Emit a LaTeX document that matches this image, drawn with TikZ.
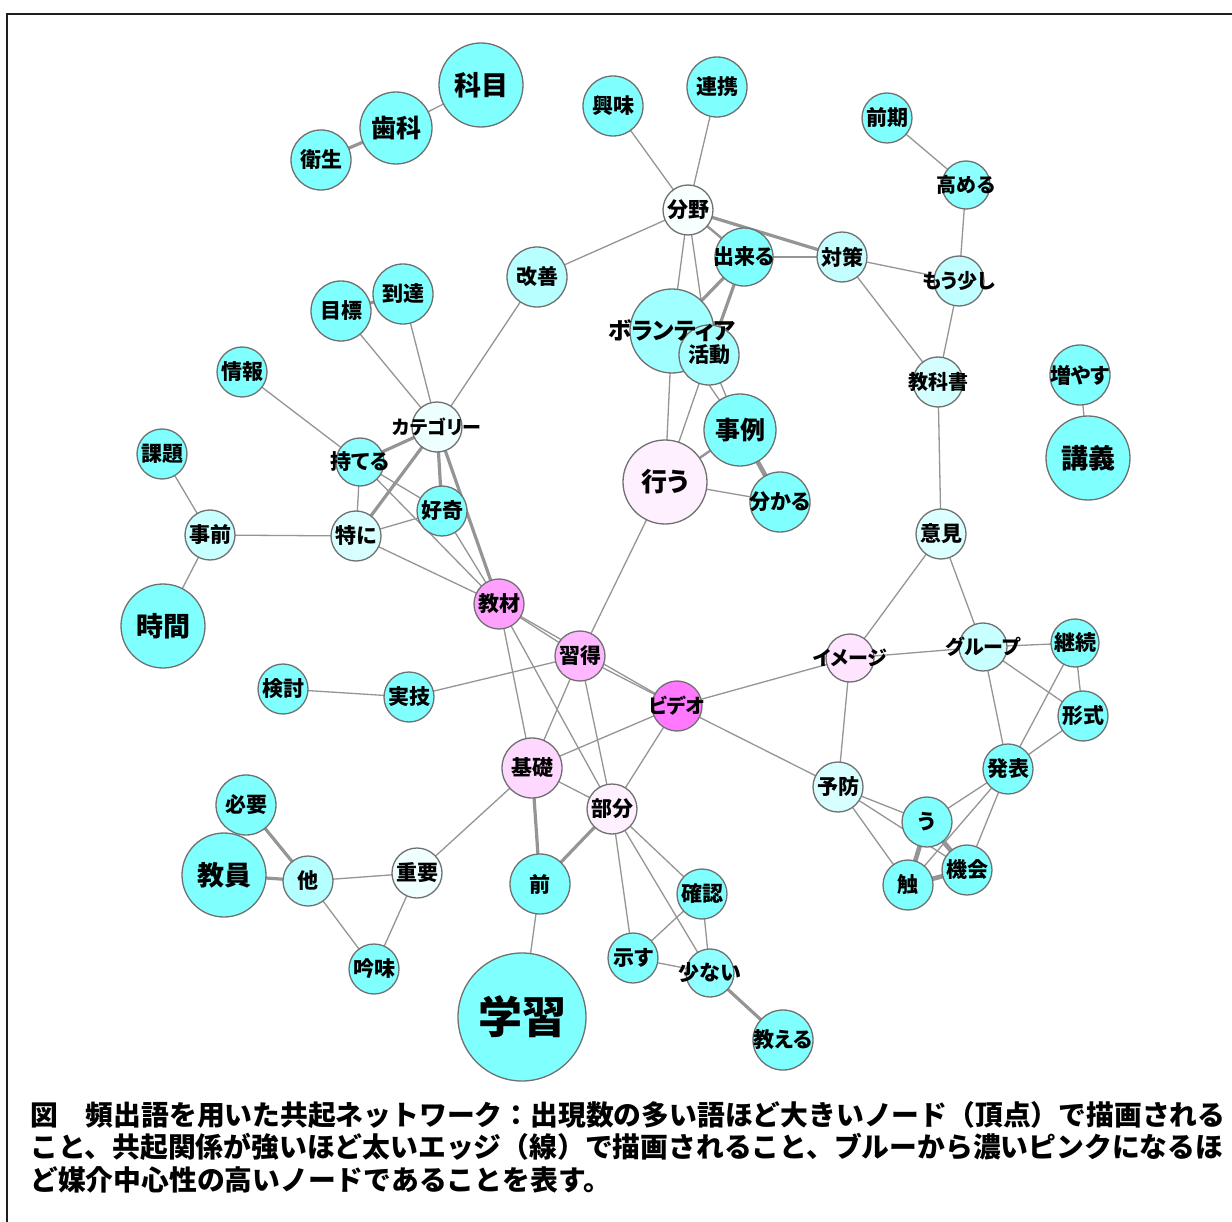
\documentclass[tikz,border=0pt]{standalone}
\usepackage{fontspec}
\newfontfamily\jp{Noto Sans CJK JP}
\newfontfamily\jpp{Noto Sans CJK JP}[RawFeature=+palt]
\pgfdeclarelayer{paper}
\pgfdeclarelayer{background}
\pgfdeclarelayer{foreground}
\pgfsetlayers{paper,background,main,foreground}
\definecolor{ndline}{HTML}{707070}
\definecolor{edcol}{HTML}{959595}
\definecolor{frm}{HTML}{1E1E1E}
\definecolor{cA}{HTML}{80FFFF}
\definecolor{cA2}{HTML}{8CFFFF}
\definecolor{cBunya}{HTML}{F8FFFF}
\definecolor{cKaizen}{HTML}{B8FFFF}
\definecolor{cVol}{HTML}{A0FFFF}
\definecolor{cKat}{HTML}{A6FFFF}
\definecolor{cTai}{HTML}{C4FFFF}
\definecolor{cMou}{HTML}{C0FFFF}
\definecolor{cKyo}{HTML}{D4FFFF}
\definecolor{cIken}{HTML}{DCFFFF}
\definecolor{cGroup}{HTML}{C8FFFF}
\definecolor{cYobo}{HTML}{D8FFFF}
\definecolor{cCat}{HTML}{EEFFFF}
\definecolor{cMot}{HTML}{8CFFFF}
\definecolor{cTok}{HTML}{D8FFFF}
\definecolor{cJizen}{HTML}{C8FFFF}
\definecolor{cHoka}{HTML}{B4FFFF}
\definecolor{cJuyo}{HTML}{F0FFFF}
\definecolor{cSuk}{HTML}{90FFFF}
\definecolor{cOko}{HTML}{FFF0FF}
\definecolor{cBubun}{HTML}{FFF0FF}
\definecolor{cImage}{HTML}{FFE4FF}
\definecolor{cKiso}{HTML}{FFD8FF}
\definecolor{cShu}{HTML}{FFB8FF}
\definecolor{cKyz}{HTML}{FFA0FF}
\definecolor{cVideo}{HTML}{FF78FF}
\tikzset{
  nd/.style={circle, draw=ndline, line width=1.3pt, inner sep=0pt, outer sep=0pt},
  lbl/.style={inner sep=0pt, text=black},
  ed/.style={draw=edcol, line width=1.3pt},
  edm/.style={ed, line width=2.4pt},
  edk/.style={ed, line width=3.2pt},
  edx/.style={ed, line width=4.6pt},
  captext/.style={inner sep=0pt, anchor=west, text=black, font=\jp\bfseries\fontsize{27.8}{27.8}\selectfont}
}
% name, x, y, r, fill, fontsize, text
\newcommand\wn[7]{%
  \node[nd, minimum size={2*#4pt}, fill=#5] (#1) at (#2,#3) {};
  \begin{pgfonlayer}{foreground}
    \node[lbl, font=\jpp\bfseries\fontsize{#6}{#6}\selectfont] at (#1.center) {#7};
  \end{pgfonlayer}}
\begin{document}
\begin{tikzpicture}[x=1pt,y=-1pt]
\useasboundingbox (0,0) rectangle (1232,1222);
\begin{pgfonlayer}{paper}
\fill[white] (0,0) rectangle (1232,1222);
\end{pgfonlayer}
\draw[frm, line width=2pt] (7,1222) -- (7,14) -- (1232,14);

\wn{kamoku}{481}{85}{42}{cA}{27}{科目}
\wn{shika}{396}{128}{36}{cA}{25}{歯科}
\wn{eisei}{321}{160}{30}{cA}{21}{衛生}
\wn{kyomi}{613}{106}{30}{cA}{21}{興味}
\wn{renkei}{717}{87}{30}{cA}{21}{連携}
\wn{bunya}{688}{210}{25}{cBunya}{21}{分野}
\wn{kaizen}{537}{277}{30}{cKaizen}{21}{改善}
\wn{dekiru}{744}{257}{29}{cA}{21}{出来る}
\wn{volun}{672}{331}{42}{cVol}{23.5}{ボランティア}
\wn{katsudo}{709}{355}{30}{cKat}{21}{活動}
\wn{jirei}{740}{430}{36}{cA}{25}{事例}
\wn{okonau}{665}{482}{42}{cOko}{26}{行う}
\wn{wakaru}{780}{502}{30}{cA}{21}{分かる}
\wn{taisaku}{842}{257}{25}{cTai}{21}{対策}
\wn{zenki}{887}{118}{25}{cA}{21}{前期}
\wn{takameru}{966}{185}{24}{cA2}{20}{高める}
\wn{mousukoshi}{959}{281}{25}{cMou}{20}{もう少し}
\wn{kyokasho}{938}{382}{25}{cKyo}{20}{教科書}
\wn{fuyasu}{1080}{375}{30}{cA}{21}{増やす}
\wn{kogi}{1088}{458}{42}{cA}{27}{講義}
\wn{iken}{941}{534}{25}{cIken}{21}{意見}
\wn{group}{983}{647}{24}{cGroup}{20}{グループ}
\wn{keizoku}{1075}{643}{24}{cA}{21}{継続}
\wn{keishiki}{1083}{716}{25}{cA}{21}{形式}
\wn{image}{850}{658}{24}{cImage}{20}{イメージ}
\wn{happyo}{1008}{769}{25}{cA}{21}{発表}
\wn{yobo}{838}{787}{25}{cYobo}{21}{予防}
\wn{u}{927}{822}{25}{cA}{21}{う}
\wn{shoku}{908}{885}{25}{cA}{21}{触}
\wn{kikai}{967}{870}{25}{cA}{21}{機会}
\wn{video}{677}{706}{25}{cVideo}{20}{ビデオ}
\wn{shutoku}{580}{656}{25}{cShu}{21}{習得}
\wn{kyozai}{499}{604}{25}{cKyz}{21}{教材}
\wn{kiso}{532}{768}{30}{cKiso}{21}{基礎}
\wn{bubun}{612}{809}{25}{cBubun}{21}{部分}
\wn{mae}{540}{884}{30}{cA}{21}{前}
\wn{gakushu}{522}{1017}{64}{cA}{44}{学習}
\wn{kakunin}{702}{894}{25}{cA}{21}{確認}
\wn{shimesu}{633}{958}{25}{cA}{21}{示す}
\wn{sukunai}{710}{973}{24}{cSuk}{21}{少ない}
\wn{oshieru}{783}{1040}{30}{cA}{21}{教える}
\wn{category}{437}{427}{25}{cCat}{19}{カテゴリー}
\wn{moteru}{360}{462}{24}{cMot}{21}{持てる}
\wn{koki}{442}{511}{25}{cA}{21}{好奇}
\wn{tokuni}{356}{536}{25}{cTok}{21}{特に}
\wn{mokuhyo}{341}{311}{30}{cA}{21}{目標}
\wn{totatsu}{403}{294}{30}{cA}{21}{到達}
\wn{joho}{242}{372}{25}{cA}{21}{情報}
\wn{kadai}{162}{454}{25}{cA}{21}{課題}
\wn{jizen}{210}{535}{25}{cJizen}{21}{事前}
\wn{jikan}{163}{626}{42}{cA}{27}{時間}
\wn{kento}{283}{689}{25}{cA}{21}{検討}
\wn{jitsugi}{409}{697}{25}{cA}{21}{実技}
\wn{hitsuyo}{246}{805}{30}{cA}{21}{必要}
\wn{kyoin}{224}{875}{42}{cA}{27}{教員}
\wn{hoka}{308}{881}{25}{cHoka}{21}{他}
\wn{juyo}{417}{873}{25}{cJuyo}{21}{重要}
\wn{ginmi}{374}{969}{25}{cA}{21}{吟味}

\begin{pgfonlayer}{background}
\draw[ed] (kamoku) -- (shika);
\draw[edk] (shika) -- (eisei);
\draw[ed] (kyomi) -- (bunya);
\draw[ed] (renkei) -- (bunya);
\draw[ed] (bunya) -- (kaizen);
\draw[edm] (bunya) -- (dekiru);
\draw[edk] (bunya) -- (taisaku);
\draw[ed] (bunya) -- (volun);
\draw[ed] (bunya) -- (katsudo);
\draw[ed] (dekiru) -- (taisaku);
\draw[edk] (dekiru) -- (volun);
\draw[edk] (dekiru) -- (katsudo);
\draw[ed] (taisaku) -- (mousukoshi);
\draw[ed] (taisaku) -- (kyokasho);
\draw[ed] (zenki) -- (takameru);
\draw[ed] (takameru) -- (mousukoshi);
\draw[ed] (mousukoshi) -- (kyokasho);
\draw[ed] (kyokasho) -- (iken);
\draw[ed] (fuyasu) -- (kogi);
\draw[ed] (iken) -- (image);
\draw[ed] (iken) -- (group);
\draw[ed] (image) -- (group);
\draw[ed] (group) -- (keizoku);
\draw[ed] (group) -- (keishiki);
\draw[ed] (group) -- (happyo);
\draw[ed] (keizoku) -- (keishiki);
\draw[ed] (keizoku) -- (happyo);
\draw[ed] (keishiki) -- (happyo);
\draw[ed] (image) -- (yobo);
\draw[ed] (image) -- (video);
\draw[ed] (yobo) -- (u);
\draw[ed] (yobo) -- (kikai);
\draw[ed] (yobo) -- (shoku);
\draw[ed] (happyo) -- (u);
\draw[ed] (happyo) -- (shoku);
\draw[ed] (happyo) -- (kikai);
\draw[edx] (u) -- (shoku);
\draw[edx] (u) -- (kikai);
\draw[edx] (shoku) -- (kikai);
\draw[ed] (video) -- (yobo);
\draw[ed] (video) -- (shutoku);
\draw[ed] (kyozai) -- (shutoku);
\draw[ed] (kyozai) -- (video);
\draw[ed] (okonau) -- (shutoku);
\draw[ed] (okonau) -- (volun);
\draw[ed] (okonau) -- (katsudo);
\draw[edm] (okonau) -- (jirei);
\draw[ed] (okonau) -- (wakaru);
\draw[edx] (jirei) -- (wakaru);
\draw[ed] (volun) -- (jirei);
\draw[ed] (katsudo) -- (jirei);
\draw[ed] (kaizen) -- (category);
\draw[ed] (category) -- (mokuhyo);
\draw[ed] (category) -- (totatsu);
\draw[edk] (category) -- (moteru);
\draw[edk] (category) -- (tokuni);
\draw[edk] (category) -- (koki);
\draw[edk] (category) -- (kyozai);
\draw[edk] (mokuhyo) -- (totatsu);
\draw[ed] (joho) -- (moteru);
\draw[ed] (moteru) -- (tokuni);
\draw[ed] (moteru) -- (koki);
\draw[ed] (moteru) -- (kyozai);
\draw[ed] (tokuni) -- (koki);
\draw[ed] (tokuni) -- (kyozai);
\draw[ed] (koki) -- (kyozai);
\draw[ed] (tokuni) -- (jizen);
\draw[ed] (kadai) -- (jizen);
\draw[ed] (jizen) -- (jikan);
\draw[ed] (kyozai) -- (kiso);
\draw[ed] (kyozai) -- (bubun);
\draw[ed] (shutoku) -- (kiso);
\draw[ed] (shutoku) -- (bubun);
\draw[ed] (shutoku) -- (jitsugi);
\draw[ed] (jitsugi) -- (kento);
\draw[ed] (video) -- (kiso);
\draw[ed] (video) -- (bubun);
\draw[ed] (kiso) -- (bubun);
\draw[edk] (kiso) -- (mae);
\draw[ed] (kiso) -- (juyo);
\draw[edk] (bubun) -- (mae);
\draw[ed] (bubun) -- (kakunin);
\draw[ed] (bubun) -- (shimesu);
\draw[ed] (bubun) -- (sukunai);
\draw[ed] (mae) -- (gakushu);
\draw[ed] (kakunin) -- (shimesu);
\draw[ed] (kakunin) -- (sukunai);
\draw[ed] (shimesu) -- (sukunai);
\draw[edk] (sukunai) -- (oshieru);
\draw[edk] (hitsuyo) -- (hoka);
\draw[edk] (kyoin) -- (hoka);
\draw[ed] (hoka) -- (juyo);
\draw[ed] (hoka) -- (ginmi);
\draw[ed] (juyo) -- (ginmi);
\end{pgfonlayer}

\node[captext] (cap1) at (30,1115) {図　頻出語を用いた共起ネットワーク：出現数の多い語ほど大きいノード（頂点）で描画される};
\node[captext] (cap2) at (30,1147) {こと、共起関係が強いほど太いエッジ（線）で描画されること、ブルーから濃いピンクになるほ};
\node[captext] (cap3) at (30,1180) {ど媒介中心性の高いノードであることを表す。};
\end{tikzpicture}
\end{document}
